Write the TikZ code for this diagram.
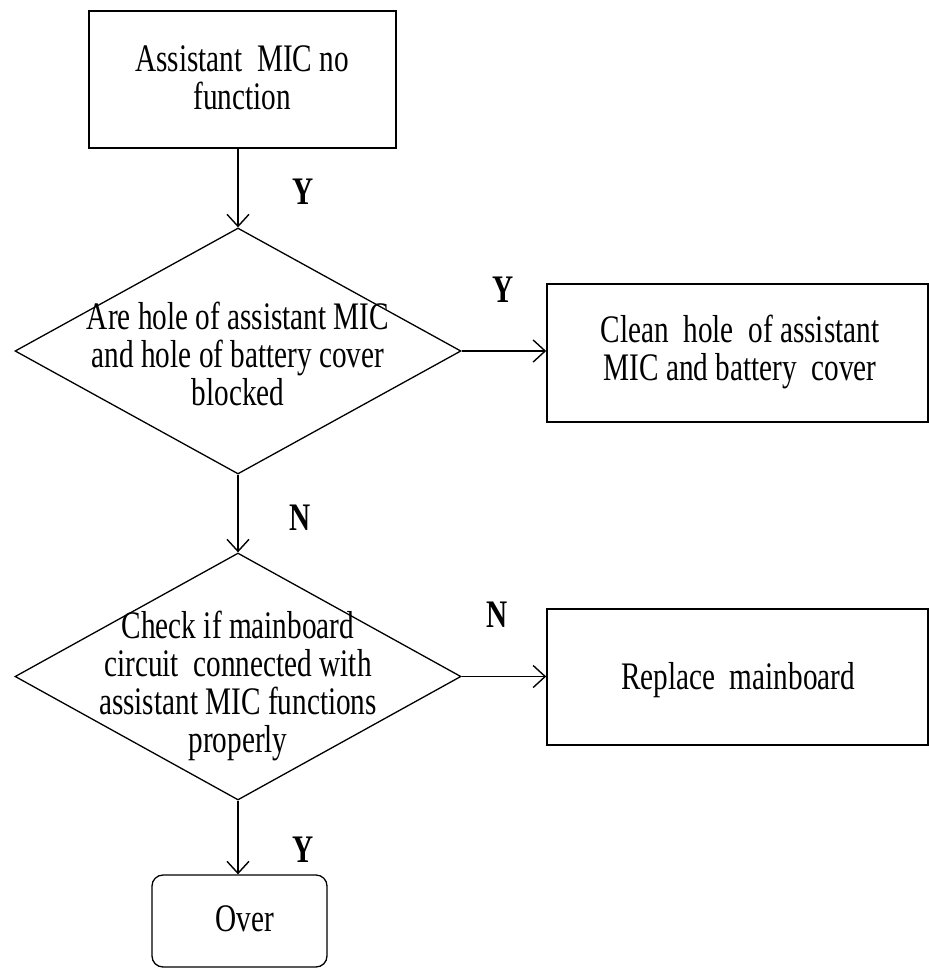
\documentclass[tikz,border=0pt]{standalone}
\usepackage{fontspec}
\setmainfont{Liberation Serif}[FakeStretch=0.75]
\usetikzlibrary{shapes.geometric,arrows.meta}
\begin{document}
\begin{tikzpicture}[x=1pt,y=-1pt,
  txt/.style={font=\fontsize{39}{38}\selectfont, align=center, inner sep=0pt},
  box/.style={draw, line width=1.6pt, inner sep=0pt},
  dia/.style={draw, shape=diamond, line width=1.3pt, inner sep=0pt},
  lbl/.style={font=\fontsize{39}{38}\selectfont\bfseries, inner sep=0pt},
  conn/.style={line width=1.4pt, -{Straight Barb[length=12pt,width=22pt,line width=1.4pt]}}]
\useasboundingbox (0,0) rectangle (929,970);
\fill[white] (0,0) rectangle (929,970);

\node[box, minimum width=307pt, minimum height=137pt] (start) at (242.5,79.5) {};
\node[txt] (starttxt) at (242,78) {Assistant~ MIC no\\function};

\node[dia, minimum width=446pt, minimum height=246pt] (d1) at (238,351) {};
\node[txt] (d1txt) at (238,354) {Are hole of assistant MIC\\and hole of battery cover\\blocked};

\node[box, minimum width=381pt, minimum height=138pt] (clean) at (737.5,353) {};
\node[txt] (cleantxt) at (740,352) {Clean~ hole~ of assistant\\MIC and battery~ cover};

\node[dia, minimum width=446pt, minimum height=247pt] (d2) at (238,676.5) {};
\node[txt] (d2txt) at (238,686) {Check if mainboard\\circuit~ connected with\\assistant MIC functions\\properly};

\node[box, minimum width=381pt, minimum height=136pt] (repl) at (737.5,677) {};
\node[txt] (repltxt) at (738,680) {Replace~ mainboard};

\node[draw, line width=1.3pt, rounded corners=11pt, minimum width=175pt, minimum height=92pt, inner sep=0pt] (over) at (239.5,921) {};
\node[txt] (overtxt) at (245,919) {Over};

\draw[conn] (d1.north |- start.south) -- (d1.north);
\draw[conn] (d1.east) -- (clean.west |- d1.east);
\draw[conn] (d1.south) -- (d2.north);
\draw[conn] (d2.east) -- (repl.west |- d2.east);
\draw[conn] (d2.south) -- (d2.south |- over.north);

\node[lbl] (y1) at (303,192) {Y};
\node[lbl] (y2) at (503,290) {Y};
\node[lbl] (n1) at (300,518) {N};
\node[lbl] (n2) at (497,615) {N};
\node[lbl] (y3) at (303,850) {Y};
\end{tikzpicture}
\end{document}
